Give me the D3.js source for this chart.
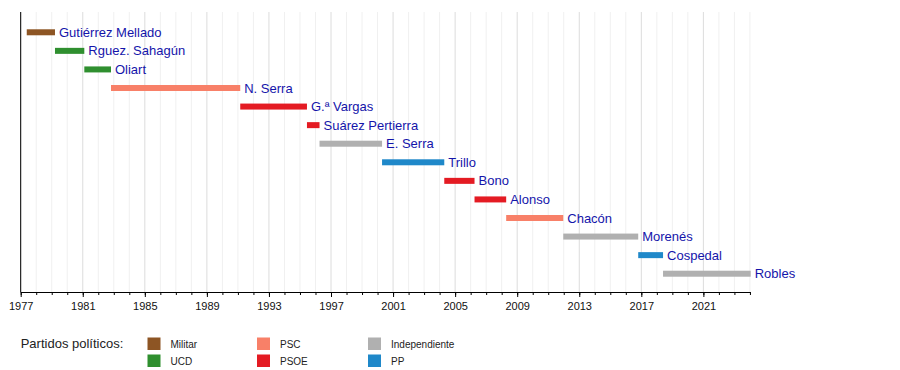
<!DOCTYPE html>
<html><head><meta charset="utf-8">
<script src="https://cdn.jsdelivr.net/npm/d3@7"></script>
<style>body{margin:0;background:#fff;} svg{display:block;font-family:"Liberation Sans",Arial,sans-serif;}</style>
</head><body>
<svg id="c" width="900" height="370"></svg>
<script>
const ministers = ["Gutiérrez Mellado","Rguez. Sahagún","Oliart","N. Serra","G.ª Vargas","Suárez Pertierra","E. Serra","Trillo","Bono","Alonso","Chacón","Morenés","Cospedal","Robles"];
const startYears = [1977.39,1979.21,1981.10,1982.82,1991.15,1995.45,1996.26,2000.29,2004.30,2006.25,2008.29,2011.97,2016.80,2018.40];
const endYears   = [1979.21,1981.10,1982.82,1991.15,1995.45,1996.26,2000.29,2004.30,2006.25,2008.29,2011.97,2016.80,2018.40,2024.05];
const parties    = ["Militar","UCD","UCD","PSC","PSOE","PSOE","Independiente","PP","PSOE","PSOE","PSC","Independiente","PP","Independiente"];
const partyNames = ["Militar","UCD","PSC","PSOE","Independiente","PP"];
const partyColors= ["#8d5524","#2f8f2f","#f88068","#e41b23","#b0b0b0","#1f88c9"];
const tickYears  = [1977,1981,1985,1989,1993,1997,2001,2005,2009,2013,2017,2021];
const domainYears = [1977, 2024.05];

(function(){
const svg = d3.select("#c");
const L = 20.7, R = 750.7, T = 12, B = 292;
const x = d3.scaleLinear().domain(domainYears).range([L, R]);
const y = d3.scaleBand().domain(ministers).range([23, 283]).padding(0);
const color = d3.scaleOrdinal().domain(partyNames).range(partyColors);

// gridlines
const years = d3.range(1977, 2025);
svg.append("g").selectAll("line").data(years).join("line")
  .attr("x1", d => x(d)).attr("x2", d => x(d))
  .attr("y1", T).attr("y2", B)
  .attr("stroke", d => (d - 1977) % 4 === 0 ? "#dcdcdc" : "#f0f0f0")
  .attr("stroke-width", 1);

// bars
const rows = ministers.map((m, i) => ({m, s: startYears[i], e: endYears[i], p: parties[i]}));
svg.append("g").selectAll("rect").data(rows).join("rect")
  .attr("x", d => x(d.s)).attr("width", d => x(d.e) - x(d.s))
  .attr("y", d => y(d.m) + y.bandwidth()/2 - 3).attr("height", 6)
  .attr("fill", d => color(d.p));
svg.append("g").selectAll("text").data(rows).join("text")
  .attr("x", d => x(d.e) + 4).attr("y", d => y(d.m) + y.bandwidth()/2 + 4.5)
  .attr("fill", "#1414aa").attr("font-size", 13).text(d => d.m);

// axis
const axisG = svg.append("g").attr("transform", `translate(0,${B})`);
axisG.call(d3.axisBottom(x).tickValues(years).tickSize(3).tickFormat(""));
axisG.call(g => g.select(".domain").remove());
axisG.selectAll("line").attr("stroke", "#000");
const ax2 = svg.append("g").attr("transform", `translate(0,${B})`)
  .call(d3.axisBottom(x).tickValues(tickYears).tickSize(5).tickPadding(5).tickFormat(d3.format("d")));
ax2.select(".domain").attr("d", `M${L},0.5H${R}`).attr("stroke", "#000");
ax2.selectAll("text").attr("font-size", 11).attr("fill", "#111").attr("font-family", "Liberation Sans, Arial, sans-serif");
svg.append("line").attr("x1", L).attr("x2", L).attr("y1", T).attr("y2", B)
  .attr("stroke", "#000");

// legend
svg.append("text").attr("x", 20.7).attr("y", 348).attr("font-size", 13).attr("fill", "#222")
  .text("Partidos políticos:");
const colX = [147.5, 257, 368];
const leg = svg.append("g").selectAll("g").data(partyNames).join("g")
  .attr("transform", (d, i) => `translate(${colX[Math.floor(i/2)]},${i % 2 === 0 ? 337.5 : 354.5})`);
leg.append("rect").attr("width", 13).attr("height", 12.5).attr("fill", d => color(d));
leg.append("text").attr("x", 23).attr("y", 10.5).attr("font-size", 10).attr("fill", "#222").text(d => d);
})();
</script>
</body></html>
